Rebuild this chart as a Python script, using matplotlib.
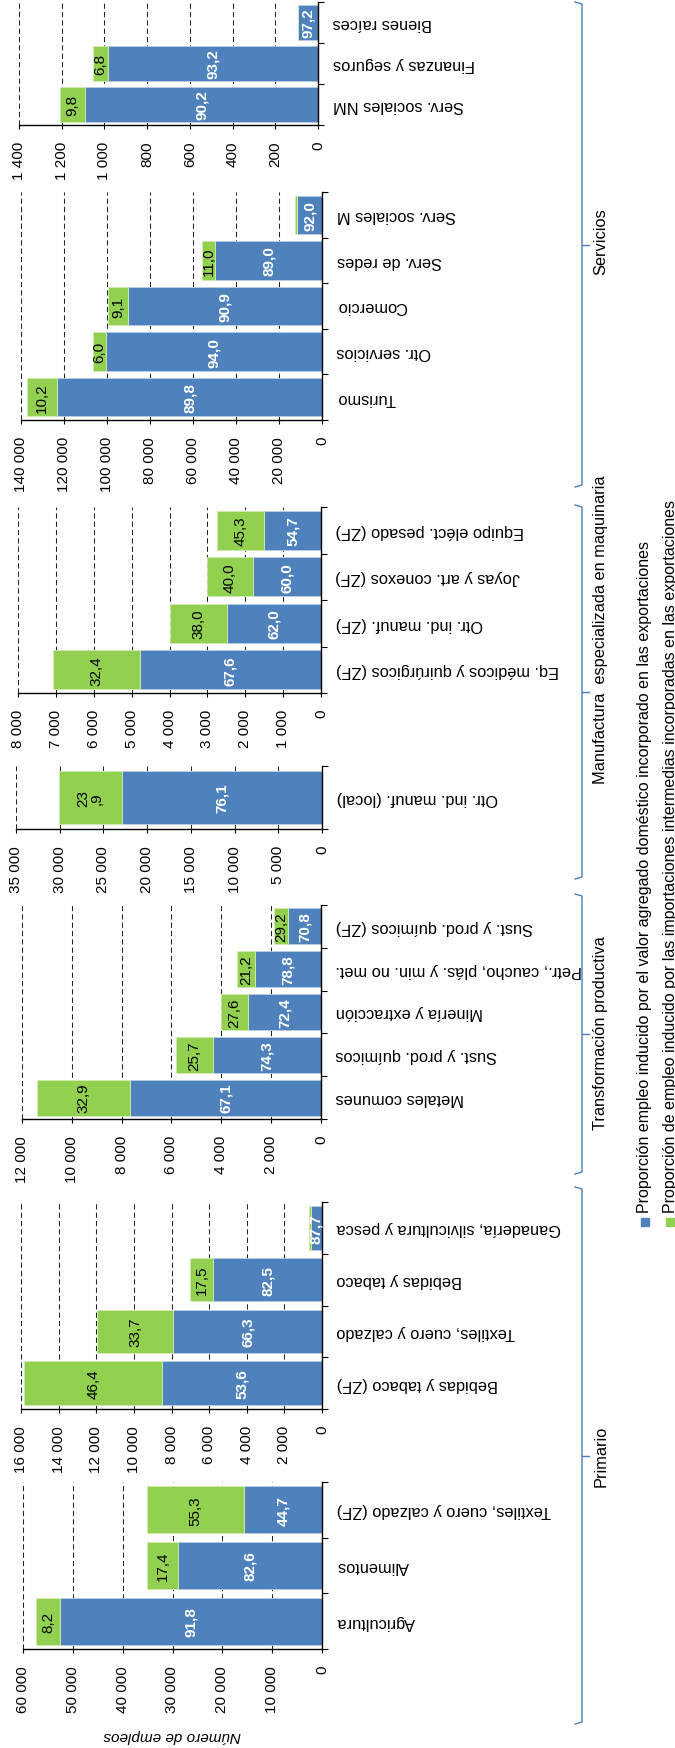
import matplotlib
matplotlib.use("Agg")
import matplotlib.pyplot as plt
from matplotlib.lines import Line2D
from matplotlib.patches import Rectangle
from matplotlib.ticker import FuncFormatter, MultipleLocator

plt.rcParams['font.family'] = ['Liberation Sans', 'DejaVu Sans']

# --- datos ---
# Primario A
cat_prim_a = ["Agricultura", "Alimentos", "Textiles, cuero y calzado (ZF)"]
tot_prim_a = [57300, 35050, 35050]
dom_prim_a = [91.8, 82.6, 44.7]
# Primario B
cat_prim_b = ["Bebidas y tabaco (ZF)", "Textiles, cuero y calzado",
              "Bebidas y tabaco", "Ganadería, silvicultura y pesca"]
tot_prim_b = [15830, 11940, 7020, 675]
dom_prim_b = [53.6, 66.3, 82.5, 87.7]
# Transformacion productiva
cat_trans = ["Metales comunes", "Sust. y prod. químicos", "Minería y extracción",
             "Petr., caucho, plás. y min. no met.", "Sust. y prod. químicos (ZF)"]
tot_trans = [11410, 5820, 4020, 3360, 1880]
dom_trans = [67.1, 74.3, 72.4, 78.8, 70.8]
# Manufactura A
cat_manu_a = ["Otr. ind. manuf. (local)"]
tot_manu_a = [30080]
dom_manu_a = [76.1]
# Manufactura B
cat_manu_b = ["Eq. médicos y quirúrgicos (ZF)", "Otr. ind. manuf. (ZF)",
              "Joyas y art. conexos (ZF)", "Equipo eléct. pesado (ZF)"]
tot_manu_b = [7070, 3990, 3000, 2750]
dom_manu_b = [67.6, 62.0, 60.0, 54.7]
# Servicios A
cat_serv_a = ["Turismo", "Otr. servicios", "Comercio", "Serv. de redes", "Serv. sociales M"]
tot_serv_a = [137100, 106700, 99400, 55700, 12560]
dom_serv_a = [89.8, 94.0, 90.9, 89.0, 92.0]
# Servicios B
cat_serv_b = ["Serv. sociales NM", "Finanzas y seguros", "Bienes raíces"]
tot_serv_b = [1208, 1055, 95]
dom_serv_b = [90.2, 93.2, 97.2]

# etiqueta partida en dos lineas en el original
label_override = {"Otr. ind. manuf. (local)": "23\n,9"}

leg_dom = "Proporción empleo inducido por el valor agregado doméstico incorporado en las exportaciones"
leg_imp = "Proporción de empleo inducido por las importaciones intermedias incorporadas en las exportaciones"

BLUE = "#4F81BD"
GREEN = "#92D050"
BRACKET = "#4A7EC0"

W, H = 675, 1749
def fx(px):
    return px / W
def fy(py):
    return 1 - py / H

# (categorias, totales, % domestico, max, paso, [arriba, abajo, izq, der] en px)
panels = [
    (cat_prim_a, tot_prim_a, dom_prim_a, 60000, 10000, [1483, 1650, 23, 322]),
    (cat_prim_b, tot_prim_b, dom_prim_b, 16000, 2000, [1203, 1410, 21, 322]),
    (cat_trans, tot_trans, dom_trans, 12000, 2000, [906, 1120, 22, 321]),
    (cat_manu_a, tot_manu_a, dom_manu_a, 35000, 5000, [767, 830, 16, 322]),
    (cat_manu_b, tot_manu_b, dom_manu_b, 8000, 1000, [508, 694, 18, 321]),
    (cat_serv_a, tot_serv_a, dom_serv_a, 140000, 20000, [193, 421, 21, 322]),
    (cat_serv_b, tot_serv_b, dom_serv_b, 1400, 200, [3, 126, 19, 318]),
]

fmt_num = FuncFormatter(lambda v, p: "{:,.0f}".format(v).replace(",", " "))
def fmt_pct(v):
    return "{:.1f}".format(v).replace(".", ",")

fig = plt.figure(figsize=(6.75, 17.49), dpi=100)

for cats, tots, doms, xmax, step, (t, b, l, r) in panels:
    ax = fig.add_axes([fx(l), fy(b), (r - l) / W, (b - t) / H])
    n = len(cats)
    pos = list(range(n))
    dom = [tt * d / 100 for tt, d in zip(tots, doms)]
    imp = [tt - d for tt, d in zip(tots, dom)]
    ax.barh(pos, dom, height=0.84, color=BLUE, edgecolor="#B9CDE5", linewidth=0.6, zorder=2)
    ax.barh(pos, imp, left=dom, height=0.84, color=GREEN, edgecolor="#D2EBB5", linewidth=0.6, zorder=2)
    ax.set_xlim(xmax, 0)
    ax.set_ylim(-0.5, n - 0.5)
    ax.xaxis.set_major_locator(MultipleLocator(step))
    ax.xaxis.set_major_formatter(fmt_num)
    ax.grid(axis="x", color="#222222", linestyle=(0, (5, 3)), linewidth=0.75)
    ax.set_axisbelow(True)
    for s in ["top", "left"]:
        ax.spines[s].set_visible(False)
    for s in ["bottom", "right"]:
        ax.spines[s].set_linewidth(1.0)
    ax.tick_params(axis="x", direction="out", length=3, width=0.8, pad=8.5,
                   labelsize=11, labelrotation=90)
    ax.set_yticks(pos)
    ax.set_yticklabels(cats)
    ax.set_yticks([p - 0.5 for p in range(n + 1)], minor=True)
    ax.tick_params(axis="y", which="major", left=False, right=False,
                   labelleft=False, labelright=True, labelrotation=180,
                   labelsize=11.8, pad=7)
    ax.tick_params(axis="y", which="minor", left=False, right=True,
                   direction="out", length=4, width=0.8)
    for tk in ax.yaxis.get_major_ticks():
        tk.label2.set_va("center")
        tk.label2.set_ha("left")
    for i in pos:
        ax.text(dom[i] / 2, i, fmt_pct(doms[i]), rotation=90, ha="center", va="center",
                color="white", fontweight="bold", fontsize=11, zorder=3)
        if imp[i] > 0.02 * xmax:
            txt = label_override.get(cats[i], fmt_pct(100 - doms[i]))
            ax.text(dom[i] + imp[i] / 2, i, txt, rotation=90, ha="center", va="center",
                    color="black", fontsize=11, linespacing=0.95, zorder=3)

# titulo del eje de valores
fig.text(fx(172), fy(1736), "Número de empleos", rotation=180, style="italic",
         ha="center", va="center", fontsize=11)

# llaves de grupos
groups = [
    ("Servicios", 3, 488, 242),
    ("Manufactura  especializada en maquinaria", 506, 880, 630),
    ("Transformación productiva", 895, 1175, 1033),
    ("Primario", 1188, 1725, 1456),
]
for name, top, bot, lab_y in groups:
    mid = (top + bot) / 2
    xs = [575, 582, 582, 575]
    ys = [top, top + 2, bot - 2, bot]
    fig.add_artist(Line2D([fx(x) for x in xs], [fy(y) for y in ys],
                          color=BRACKET, linewidth=1.0))
    fig.add_artist(Line2D([fx(582), fx(589)], [fy(mid), fy(mid)],
                          color=BRACKET, linewidth=1.0))
    fig.text(fx(601), fy(lab_y), name, rotation=90, ha="center", va="center",
             fontsize=11.8)

# leyenda
for xc, col, txt in [(645, BLUE, leg_dom), (670, GREEN, leg_imp)]:
    fig.add_artist(Rectangle((fx(xc - 4), fy(1227)), 8 / W, 8 / H,
                             transform=fig.transFigure, color=col))
    fig.text(fx(xc), fy(1213), txt, rotation=90, ha="center", va="bottom",
             fontsize=11.5)

fig.savefig("out.png", dpi=100)
